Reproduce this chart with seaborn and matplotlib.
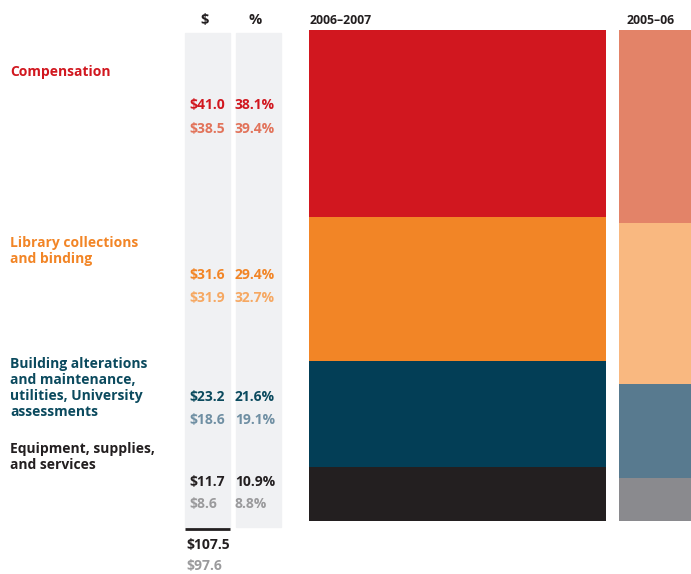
import numpy as np
import pandas as pd
import seaborn as sns
import matplotlib.pyplot as plt

# ==========================================
# 数据
# ==========================================
categories = ["Compensation",
              "Library collections\nand binding",
              "Building alterations\nand maintenance,\nutilities, University\nassessments",
              "Equipment, supplies,\nand services"]
years = ["2006–2007", "2005–06"]
spend_0607 = [41.0, 31.6, 23.2, 11.7]
pct_0607 = [38.1, 29.4, 21.6, 10.9]
spend_0506 = [38.5, 31.9, 18.6, 8.6]
pct_0506 = [39.4, 32.7, 19.1, 8.8]
totals = [107.5, 97.6]

dark_colors = ["#D1171F", "#F28526", "#033E56", "#231F20"]
light_colors = ["#E38368", "#F9B880", "#587A8F", "#8A8A8E"]
label_colors = ["#D1171F", "#F28526", "#0B4A5E", "#231F20"]
light_text = ["#E2735A", "#F6A862", "#6F8FA3", "#9A9A9C"]

GAP = 4.7  # gap between the two columns, in $M
FS = 10

sns.set_theme(style="white")
plt.rcParams['font.family'] = ['Open Sans', 'DejaVu Sans']

fig = plt.figure(figsize=(6.91, 5.74), dpi=100)

# text / decoration layer in pixel coords
txt = fig.add_axes([0, 0, 1, 1])
txt.set_xlim(0, 691)
txt.set_ylim(574, 0)
txt.axis("off")

# mekko-style bars (seaborn stacks first hue on top when y runs upward)
ax = fig.add_axes([309 / 691, (574 - 521) / 574, (691 - 309) / 691, 491 / 574])
lefts = [0, totals[0] + GAP]
for left, total, pct, pal in [(lefts[0], totals[0], pct_0607, dark_colors),
                              (lefts[1], totals[1], pct_0506, light_colors)]:
    df = pd.DataFrame({"category": categories, "pct": pct, "x": left + total / 2})
    sns.histplot(data=df, x="x", weights="pct", hue="category", hue_order=categories,
                 multiple="stack", bins=[left, left + total], palette=pal,
                 alpha=1, linewidth=0, legend=False, ax=ax)
ax.set_xlim(0, 382 / (297 / totals[0]))
ax.set_ylim(0, 100)
ax.axis("off")

# year headers
txt.text(310, 21, years[0], fontsize=8.8, fontweight="bold", color="#231F20", va="center")
txt.text(627, 21, years[1], fontsize=8.8, fontweight="bold", color="#231F20", va="center")

# gray value columns
txt.add_patch(plt.Rectangle((185, 33), 45, 494, color="#F0F1F3", zorder=0))
txt.add_patch(plt.Rectangle((236, 33), 45, 494, color="#F0F1F3", zorder=0))
txt.text(205, 20, "$", fontsize=FS + 0.5, fontweight="bold", color="#231F20", ha="center", va="center")
txt.text(255, 20, "%", fontsize=FS + 0.5, fontweight="bold", color="#231F20", ha="center", va="center")

# category labels and values
label_y = [72, 251, 388, 457]
value_y = [(105, 129), (275, 298), (397, 420), (482, 504)]
for i, cat in enumerate(categories):
    txt.text(10, label_y[i], cat, fontsize=FS, fontweight="bold", color=label_colors[i],
             va="center", linespacing=1.17)
    y1, y2 = value_y[i]
    txt.text(189, y1, f"${spend_0607[i]:.1f}", fontsize=FS, fontweight="bold",
             color=label_colors[i], va="center")
    txt.text(235, y1, f"{pct_0607[i]:.1f}%", fontsize=FS, fontweight="bold",
             color=label_colors[i], va="center")
    txt.text(189, y2, f"${spend_0506[i]:.1f}", fontsize=FS, fontweight="bold",
             color=light_text[i], va="center")
    txt.text(235, y2, f"{pct_0506[i]:.1f}%", fontsize=FS, fontweight="bold",
             color=light_text[i], va="center")

# totals
txt.plot([185, 230], [529, 529], color="#231F20", lw=2, solid_capstyle="butt")
txt.text(186, 545, f"${totals[0]:.1f}", fontsize=FS, fontweight="bold", color="#231F20", va="center")
txt.text(186, 566, f"${totals[1]:.1f}", fontsize=FS, fontweight="bold", color="#9A9A9C", va="center")

fig.savefig("out.png", dpi=100)
